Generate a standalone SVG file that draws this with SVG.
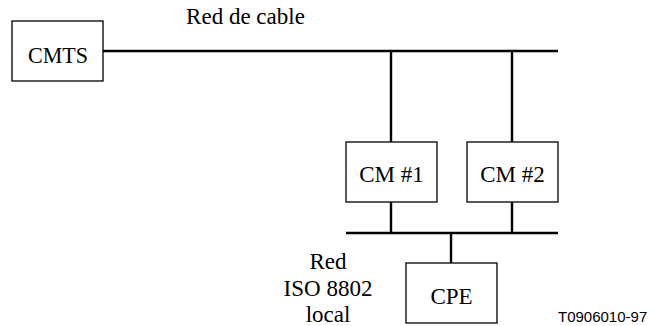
<svg xmlns="http://www.w3.org/2000/svg" width="650" height="326" viewBox="0 0 650 326">
<style>
.box{fill:#fff;stroke:#000;stroke-width:1.3}
.ln{stroke:#000;stroke-width:2.4;fill:none}
.t{font-size:23px;fill:#000;text-anchor:middle}
.s{font-size:15px;fill:#000}
</style>
<rect width="650" height="326" fill="#fff"/>
<g id="connectors">
<line class="ln" x1="103" y1="51" x2="558" y2="51"/>
<line class="ln" x1="391" y1="51" x2="391" y2="142"/>
<line class="ln" x1="512" y1="51" x2="512" y2="142"/>
<line class="ln" x1="391" y1="202" x2="391" y2="233"/>
<line class="ln" x1="512" y1="202" x2="512" y2="233"/>
<line class="ln" x1="346" y1="233" x2="558" y2="233"/>
<line class="ln" x1="451" y1="233" x2="451" y2="263"/>
</g>
<g font-family="Liberation Serif, Times New Roman, serif">
<g id="cmts"><rect class="box" x="12" y="21" width="91" height="60"/><text class="t" x="58" y="63" textLength="60" lengthAdjust="spacingAndGlyphs">CMTS</text></g>
<g id="cm1"><rect class="box" x="346" y="142" width="91" height="60"/><text class="t" x="391.5" y="181.5">CM #1</text></g>
<g id="cm2"><rect class="box" x="467" y="142" width="91" height="60"/><text class="t" x="512.5" y="181.5">CM #2</text></g>
<g id="cpe"><rect class="box" x="406" y="263" width="91" height="60"/><text class="t" x="451.5" y="304">CPE</text></g>
<g id="labels">
<text class="t" x="245.5" y="24" font-size="23.5">Red de cable</text>
<text class="t" x="328" y="269">Red</text>
<text class="t" x="328" y="296">ISO 8802</text>
<text class="t" x="328" y="322">local</text>
</g>
</g>
<text class="s" font-family="Liberation Sans, Arial, sans-serif" x="558" y="322">T0906010-97</text>
</svg>
